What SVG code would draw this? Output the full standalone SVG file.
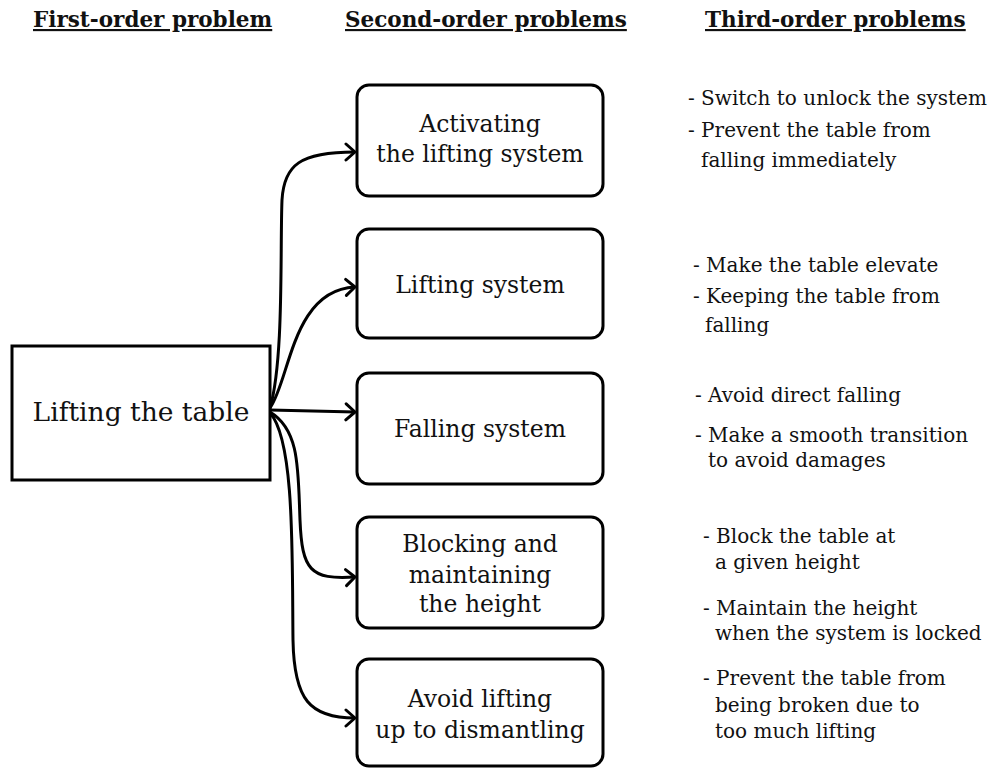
<svg xmlns="http://www.w3.org/2000/svg" width="994" height="769" viewBox="0 0 994 769">
<defs>
<marker id="ah" markerUnits="userSpaceOnUse" markerWidth="20" markerHeight="20" refX="14" refY="10" orient="auto">
<polyline points="5,2 14,10 5,18" fill="none" stroke="#000" stroke-width="3" stroke-linecap="round" stroke-linejoin="round"/>
</marker>
</defs>
<style>
text{font-family:"DejaVu Serif","Liberation Serif",serif;fill:#111}
.hd{font-size:21.5px;text-decoration:underline;font-weight:bold}
.nd{font-size:23.5px;text-anchor:middle}
.big{font-size:26.5px;text-anchor:middle}
.t3{font-size:20px}
.box{fill:#fff;stroke:#000;stroke-width:3}
.cn{fill:none;stroke:#000;stroke-width:3;marker-end:url(#ah)}
</style>
<rect width="994" height="769" fill="#fff"/>
<g id="headers">
<text class="hd" x="33" y="27">First-order problem</text>
<text class="hd" x="345" y="27">Second-order problems</text>
<text class="hd" x="705" y="27">Third-order problems</text>
</g>
<g id="connectors">
<path class="cn" d="M270,408 C284,360 280,250 282,200 C284,165 300,152 355,152"/>
<path class="cn" d="M270,408 C290,380 292,290 355,287"/>
<path class="cn" d="M270,410 L355,412"/>
<path class="cn" d="M270,412 C300,430 298,470 300,520 C302,570 310,580 355,577"/>
<path class="cn" d="M270,413 C295,440 292,560 293,640 C294,700 310,718 355,718"/>
</g>
<g id="n0">
<rect class="box" x="12" y="346" width="258" height="134"/>
<text class="big" x="141" y="421">Lifting the table</text>
</g>
<g id="n1">
<rect class="box" x="357" y="85" width="246" height="111" rx="12"/>
<text class="nd" x="480" y="132">Activating</text>
<text class="nd" x="480" y="162">the lifting system</text>
</g>
<g id="n2">
<rect class="box" x="357" y="229" width="246" height="109" rx="12"/>
<text class="nd" x="480" y="293">Lifting system</text>
</g>
<g id="n3">
<rect class="box" x="357" y="373" width="246" height="111" rx="12"/>
<text class="nd" x="480" y="437">Falling system</text>
</g>
<g id="n4">
<rect class="box" x="357" y="517" width="246" height="111" rx="12"/>
<text class="nd" x="480" y="552">Blocking and</text>
<text class="nd" x="480" y="583">maintaining</text>
<text class="nd" x="480" y="612">the height</text>
</g>
<g id="n5">
<rect class="box" x="357" y="659" width="246" height="107" rx="12"/>
<text class="nd" x="480" y="707">Avoid lifting</text>
<text class="nd" x="480" y="738">up to dismantling</text>
</g>
<g id="third">
<text class="t3" x="688" y="105">- Switch to unlock the system</text>
<text class="t3" x="688" y="137">- Prevent the table from</text>
<text class="t3" x="701" y="167">falling immediately</text>
<text class="t3" x="693" y="272">- Make the table elevate</text>
<text class="t3" x="693" y="303">- Keeping the table from</text>
<text class="t3" x="705" y="332">falling</text>
<text class="t3" x="695" y="402">- Avoid direct falling</text>
<text class="t3" x="695" y="442">- Make a smooth transition</text>
<text class="t3" x="708" y="467">to avoid damages</text>
<text class="t3" x="703" y="543">- Block the table at</text>
<text class="t3" x="715" y="569">a given height</text>
<text class="t3" x="703" y="615">- Maintain the height</text>
<text class="t3" x="715" y="640">when the system is locked</text>
<text class="t3" x="703" y="685">- Prevent the table from</text>
<text class="t3" x="715" y="712">being broken due to</text>
<text class="t3" x="715" y="738">too much lifting</text>
</g>
</svg>
